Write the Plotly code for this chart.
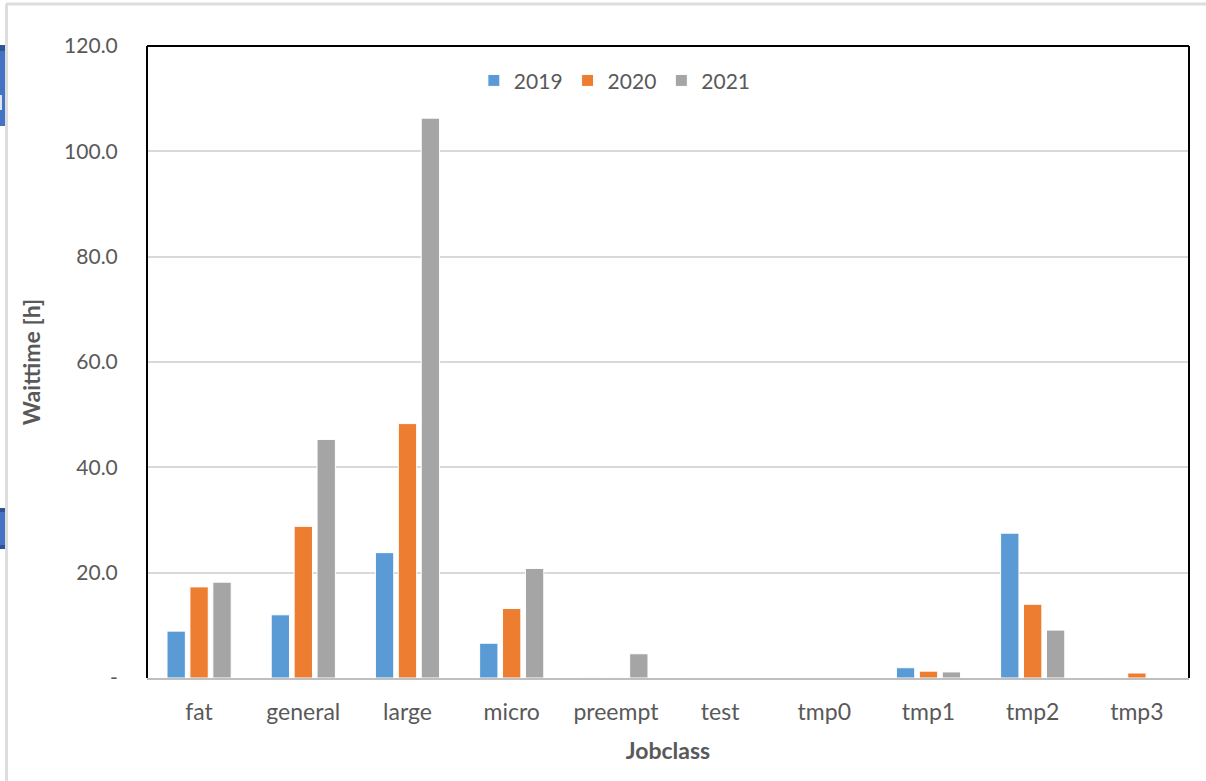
import plotly.graph_objects as go

categories = ["fat", "general", "large", "micro", "preempt", "test", "tmp0", "tmp1", "tmp2", "tmp3"]
years = ["2019", "2020", "2021"]
wait_2019 = [8.9, 12.0, 23.8, 6.6, 0.05, 0.02, 0.02, 1.95, 27.5, 0.02]
wait_2020 = [17.3, 28.8, 48.3, 13.2, 0.05, 0.1, 0.1, 1.3, 14.0, 0.95]
wait_2021 = [18.2, 45.3, 106.3, 20.8, 4.6, 0.02, 0.02, 1.15, 9.1, 0.02]
y_ticks = [0, 20, 40, 60, 80, 100, 120]
y_ticktext = ["-", "20.0", "40.0", "60.0", "80.0", "100.0", "120.0"]

colors = ["#5B9BD5", "#ED7D31", "#A5A5A5"]
series = [wait_2019, wait_2020, wait_2021]

fig = go.Figure()
for name, vals, col in zip(years, series, colors):
    fig.add_trace(go.Bar(x=categories, y=vals, name=name,
                         marker=dict(color=col, line=dict(color="white", width=1))))

W, H = 1206, 781
L, R, T, B = 147, 1189, 46, 678
pw, ph = R - L, B - T

def px(x):
    return (x - L) / pw

def py(y):
    return (B - y) / ph

font = "Lato, 'Open Sans', sans-serif"
fig.update_layout(
    width=W, height=H,
    margin=dict(l=L, r=W - R, t=T, b=H - B),
    plot_bgcolor="white", paper_bgcolor="white",
    barmode="group", bargap=0.34, bargroupgap=0.2,
    font=dict(family=font, size=21, color="#595959"),
    legend=dict(orientation="h", x=0.449, y=0.945, xanchor="center", yanchor="middle",
                font=dict(size=21, color="#595959"), itemwidth=30, traceorder="normal",
                bgcolor="rgba(0,0,0,0)"),
    xaxis=dict(showline=True, linecolor="#BFBFBF", linewidth=2, ticks="outside",
               ticklen=12, tickcolor="rgba(0,0,0,0)", tickfont=dict(size=23),
               title=dict(text="<b>Jobclass</b>", font=dict(size=23, color="#595959"), standoff=19)),
    yaxis=dict(range=[0, 120], tickvals=y_ticks, ticktext=y_ticktext,
               showgrid=True, gridcolor="#D9D9D9", gridwidth=2, zeroline=False,
               ticks="outside", ticklen=24, tickcolor="rgba(0,0,0,0)",
               title=dict(text="<b>Waittime [h]</b>", font=dict(size=23, color="#595959"), standoff=17)),
)

shapes = []
# black frame on left, top, right of plot area
for x0, y0, x1, y1 in [(0, 0, 0, 1), (0, 1, 1, 1), (1, 0, 1, 1)]:
    shapes.append(dict(type="line", xref="paper", yref="paper", x0=x0, y0=y0, x1=x1, y1=y1,
                       line=dict(color="black", width=2)))
# outer light frame (screenshot edges)
shapes.append(dict(type="line", xref="paper", yref="paper", x0=px(6), x1=px(1206), y0=py(4), y1=py(4),
                   line=dict(color="#DDDDDD", width=3)))
shapes.append(dict(type="line", xref="paper", yref="paper", x0=px(6.5), x1=px(6.5), y0=py(4), y1=py(781),
                   line=dict(color="#DDDDDD", width=3)))
# blue window fragments at left edge
shapes.append(dict(type="rect", xref="paper", yref="paper", x0=px(0), x1=px(5), y0=py(126), y1=py(45),
                   fillcolor="#4472C4", line=dict(width=0)))
shapes.append(dict(type="rect", xref="paper", yref="paper", x0=px(0), x1=px(5), y0=py(51), y1=py(45),
                   fillcolor="#2F5597", line=dict(width=0)))
shapes.append(dict(type="rect", xref="paper", yref="paper", x0=px(0), x1=px(2), y0=py(110), y1=py(95),
                   fillcolor="#DDE4F2", line=dict(width=0)))
shapes.append(dict(type="rect", xref="paper", yref="paper", x0=px(0), x1=px(5), y0=py(549), y1=py(508),
                   fillcolor="#4472C4", line=dict(width=0)))
shapes.append(dict(type="rect", xref="paper", yref="paper", x0=px(0), x1=px(5), y0=py(512), y1=py(508),
                   fillcolor="#2F5597", line=dict(width=0)))
shapes.append(dict(type="rect", xref="paper", yref="paper", x0=px(0), x1=px(5), y0=py(549), y1=py(545),
                   fillcolor="#2F5597", line=dict(width=0)))
fig.update_layout(shapes=shapes)

fig.write_html("out.html", config={"displayModeBar": False},
               post_script="document.body.style.margin='0';document.body.style.overflow='hidden';")
